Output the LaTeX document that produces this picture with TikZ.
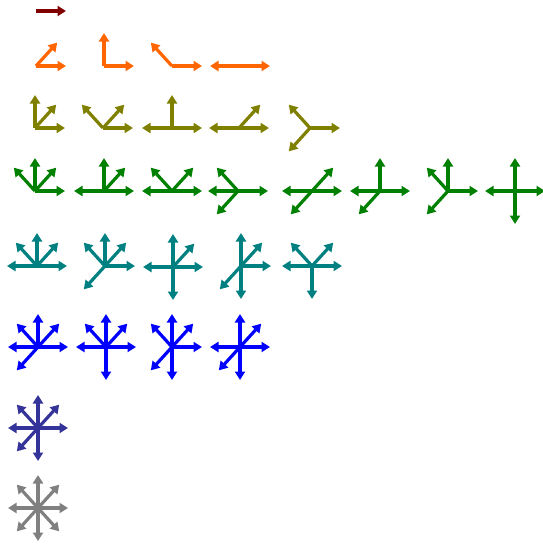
\documentclass[tikz,border=0pt]{standalone}
\usetikzlibrary{arrows.meta}
\definecolor{c1}{HTML}{800000}
\definecolor{c2}{HTML}{FF6600}
\definecolor{c3}{HTML}{808000}
\definecolor{c4}{HTML}{008000}
\definecolor{c5}{HTML}{008080}
\definecolor{c6}{HTML}{0000FF}
\definecolor{c7}{HTML}{333399}
\definecolor{c8}{HTML}{808080}
\newcommand{\glyph}[5]{%
  \coordinate (#1) at (#2,-#3);
  \foreach \a in {#5} {\draw[arr,#4] (#1) -- ++({30*cos(\a)},{33*sin(\a)});}
}
\begin{document}
\begin{tikzpicture}[x=1pt,y=1pt,
  arr/.style={line width=3.2pt,-{Triangle[length=8.5pt,width=10pt]}}]
\useasboundingbox (0,0) rectangle (543,-544);
% row 1
\glyph{a1}{36}{11}{c1}{0}
% row 2
\glyph{b1}{36}{66}{c2}{0,45}
\glyph{b2}{104}{66}{c2}{0,90}
\glyph{b3}{172}{66}{c2}{0,135}
\glyph{b4}{240}{66}{c2}{0,180}
% row 3
\glyph{c1g}{35}{128}{c3}{0,45,90}
\glyph{c2g}{103}{128}{c3}{0,45,135}
\glyph{c3g}{172}{128}{c3}{0,90,180}
\glyph{c4g}{239}{128}{c3}{0,45,180}
\glyph{c5g}{310}{128}{c3}{0,135,225}
% row 4
\glyph{d1}{35}{191}{c4}{0,45,90,135}
\glyph{d2}{104}{191}{c4}{0,45,90,180}
\glyph{d3}{172}{191}{c4}{0,45,135,180}
\glyph{d4}{238}{191}{c4}{0,135,180,225}
\glyph{d5}{312}{191}{c4}{0,45,180,225}
\glyph{d6}{380}{191}{c4}{0,90,180,225}
\glyph{d7}{448}{191}{c4}{0,90,135,225}
\glyph{d8}{515}{191}{c4}{0,90,180,270}
% row 5
\glyph{e1}{37}{266}{c5}{0,45,90,135,180}
\glyph{e2}{105}{266}{c5}{0,45,90,135,225}
\glyph{e3}{173}{267}{c5}{0,45,90,180,270}
\glyph{e4}{241}{266}{c5}{0,45,90,225,270}
\glyph{e5}{312}{266}{c5}{0,45,135,180,270}
% row 6
\glyph{f1}{38}{347}{c6}{0,45,90,135,180,225}
\glyph{f2}{106}{347}{c6}{0,45,90,135,180,270}
\glyph{f3}{172}{347}{c6}{0,45,90,135,225,270}
\glyph{f4}{240}{347}{c6}{0,45,90,180,225,270}
% row 7
\glyph{g1}{38}{428}{c7}{0,45,90,135,180,225,270}
% row 8
\glyph{h1}{38}{508}{c8}{0,45,90,135,180,225,270,315}
\end{tikzpicture}
\end{document}
